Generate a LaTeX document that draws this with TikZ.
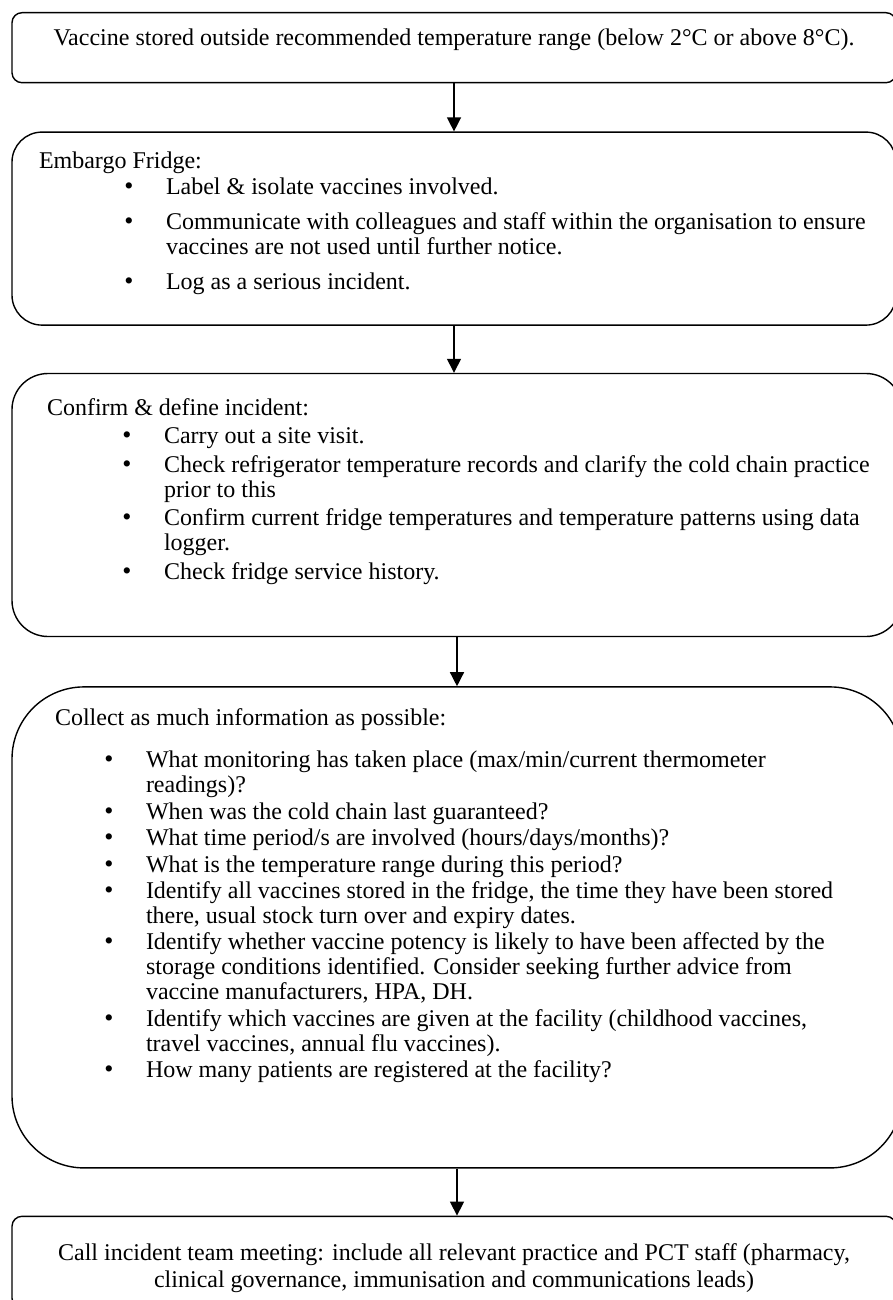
\documentclass[tikz,border=0pt]{standalone}
\usepackage{fontspec}
\setmainfont{Liberation Serif}
\usetikzlibrary{arrows.meta, positioning}

% bullet list used inside the boxes: left margin, space above, space between items
\newenvironment{stepitems}[3]{%
  \begin{list}{{\fontsize{13}{12.5}\selectfont\textbullet}}{%
    \setlength{\leftmargin}{#1}\setlength{\labelsep}{16.3pt}%
    \setlength{\labelwidth}{10pt}\setlength{\topsep}{#2}%
    \setlength{\itemsep}{#3}\setlength{\parsep}{0pt}%
    \setlength{\partopsep}{0pt}}}%
  {\end{list}}

% box body: [width], height, left inset, gap above first line, text
\newcommand{\stepbody}[5][442pt]{%
  \begin{minipage}[t][#2][t]{#1}%
    \parindent=0pt\parskip=0pt\raggedright\leftskip=#3\relax
    \vspace*{#4}\strut #5%
  \end{minipage}}

\begin{document}
\begin{tikzpicture}[
  stepbox/.style={rectangle, draw, line width=0.7pt, rounded corners=#1, inner sep=0pt,
    font=\fontsize{12}{12.5}\selectfont},
  link/.style={-{Triangle[length=7pt, width=7pt]}, line width=0.7pt}
]
  \useasboundingbox (0,0) rectangle (446.5pt,-650pt);

  \node[stepbox=5pt, anchor=north] at (227pt,-6pt)
    (vstore) {\stepbody{35pt}{0pt}{7.75pt}{\centering
      Vaccine stored outside recommended temperature range (below 2°C or above 8°C).}};

  \node[stepbox=15pt, below=24pt of vstore]
    (embargo) {\stepbody{96.5pt}{13.5pt}{9.25pt}{Embargo Fridge:
      \begin{stepitems}{77pt}{0.5pt}{5pt}
        \item Label \& isolate vaccines involved.
        \item Communicate with colleagues and staff within the organisation to ensure\\
          vaccines are not used until further notice.
        \item Log as a serious incident.
      \end{stepitems}}};

  \node[stepbox=18pt, below=23.5pt of embargo, xshift=1.5pt]
    (confirm) {\stepbody[445pt]{131.5pt}{17.5pt}{12.25pt}{Confirm \& define incident:
      \begin{stepitems}{76pt}{1.5pt}{1.8pt}
        \item Carry out a site visit.
        \item Check refrigerator temperature records and clarify the cold chain practice\\
          prior to this
        \item Confirm current fridge temperatures and temperature patterns using data\\
          logger.
        \item Check fridge service history.
      \end{stepitems}}};

  \node[stepbox=36pt, below=24.5pt of confirm]
    (collect) {\stepbody[445pt]{240.5pt}{21.5pt}{10.75pt}{Collect as much information as possible:
      \begin{stepitems}{67pt}{8.5pt}{0.7pt}
        \item What monitoring has taken place (max/min/current thermometer\\
          readings)?
        \item When was the cold chain last guaranteed?
        \item What time period/s are involved (hours/days/months)?
        \item What is the temperature range during this period?
        \item Identify all vaccines stored in the fridge, the time they have been stored\\
          there, usual stock turn over and expiry dates.
        \item Identify whether vaccine potency is likely to have been affected by the\\
          storage conditions identified. Consider seeking further advice from\\
          vaccine manufacturers, HPA, DH.
        \item Identify which vaccines are given at the facility (childhood vaccines,\\
          travel vaccines, annual flu vaccines).
        \item How many patients are registered at the facility?
      \end{stepitems}}};

  \node[stepbox=5pt, below=23.5pt of collect, xshift=-1.5pt]
    (meeting) {\stepbody{46pt}{0pt}{13.25pt}{\centering
      Call incident team meeting: include all relevant practice and PCT staff (pharmacy,\\[1pt]
      clinical governance, immunisation and communications leads)}};

  \draw[link] (vstore) -- (vstore.south |- embargo.north);
  \draw[link] (embargo) -- (embargo.south |- confirm.north);
  \draw[link] (confirm) -- (collect);
  \draw[link] (collect) -- (meeting.north -| collect.south);
\end{tikzpicture}
\end{document}
